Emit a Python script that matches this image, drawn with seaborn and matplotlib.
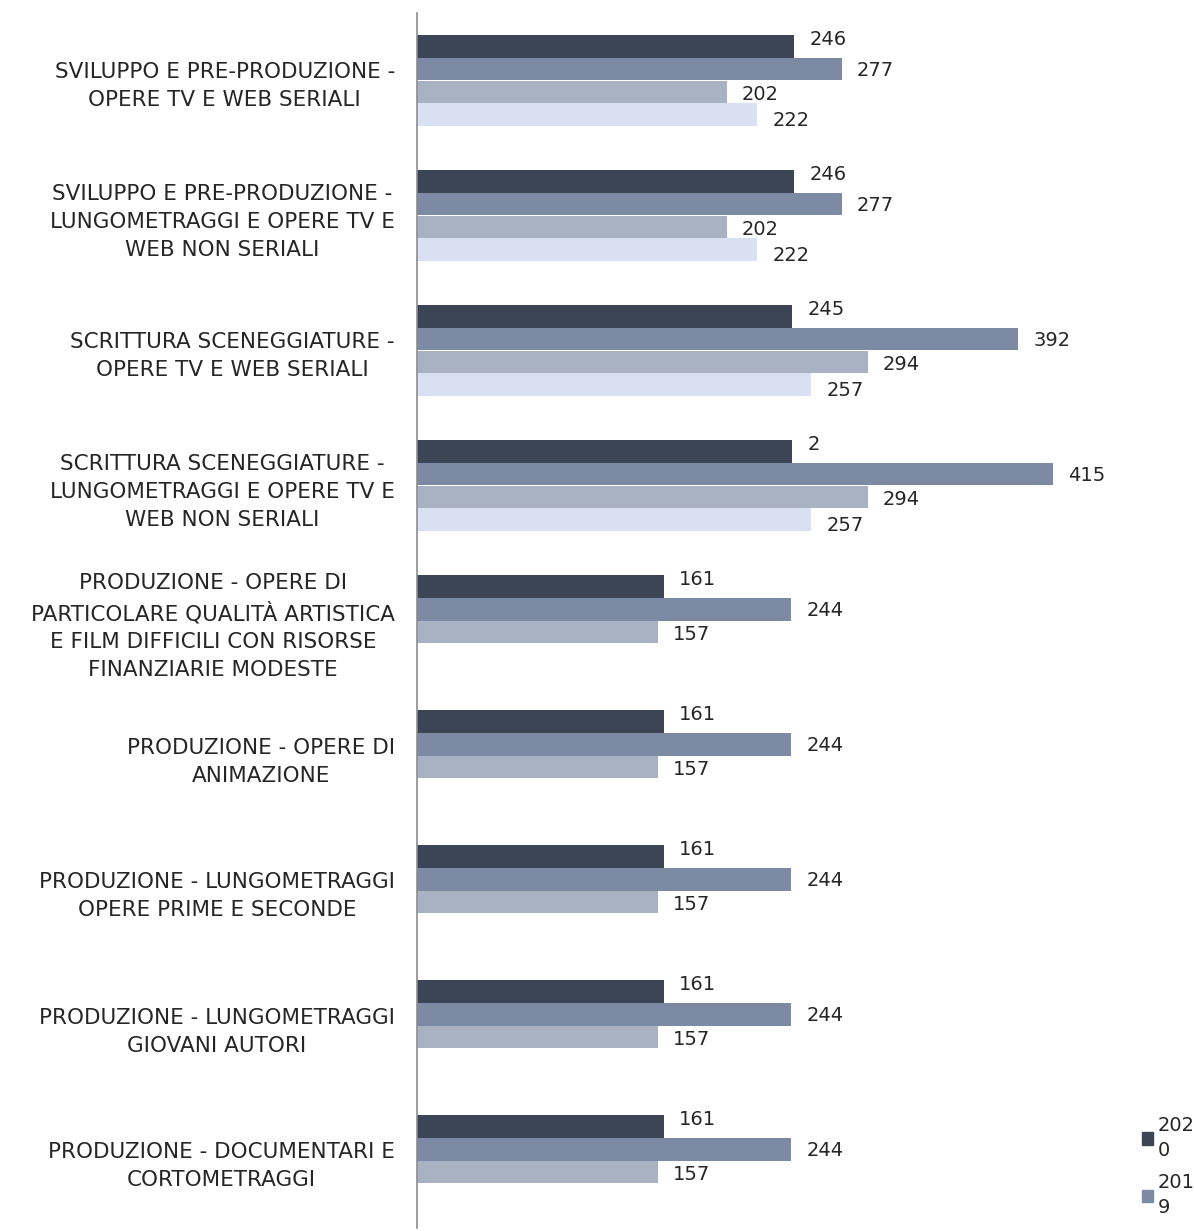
import numpy as np
import pandas as pd
import matplotlib
matplotlib.use('Agg')
import matplotlib.pyplot as plt
import seaborn as sns

categorie = [
    'SVILUPPO E PRE-PRODUZIONE -\nOPERE TV E WEB SERIALI',
    'SVILUPPO E PRE-PRODUZIONE -\nLUNGOMETRAGGI E OPERE TV E\nWEB NON SERIALI',
    'SCRITTURA SCENEGGIATURE -\nOPERE TV E WEB SERIALI',
    'SCRITTURA SCENEGGIATURE -\nLUNGOMETRAGGI E OPERE TV E\nWEB NON SERIALI',
    'PRODUZIONE - OPERE DI\nPARTICOLARE QUALITÀ ARTISTICA\nE FILM DIFFICILI CON RISORSE\nFINANZIARIE MODESTE',
    'PRODUZIONE - OPERE DI\nANIMAZIONE',
    'PRODUZIONE - LUNGOMETRAGGI\nOPERE PRIME E SECONDE',
    'PRODUZIONE - LUNGOMETRAGGI\nGIOVANI AUTORI',
    'PRODUZIONE - DOCUMENTARI E\nCORTOMETRAGGI',
]
anni = ['2020', '2019', '2018', '2017']
valori_2020 = [246, 246, 245, 245, 161, 161, 161, 161, 161]
valori_2019 = [277, 277, 392, 415, 244, 244, 244, 244, 244]
valori_2018 = [202, 202, 294, 294, 157, 157, 157, 157, 157]
valori_2017 = [222, 222, 257, 257, np.nan, np.nan, np.nan, np.nan, np.nan]
# etichette come appaiono nel grafico (una è troncata)
etichette_2020 = ['246', '246', '245', '2', '161', '161', '161', '161', '161']
etichette_2019 = ['277', '277', '392', '415', '244', '244', '244', '244', '244']
etichette_2018 = ['202', '202', '294', '294', '157', '157', '157', '157', '157']
etichette_2017 = ['222', '222', '257', '257', '', '', '', '', '']

colori = ['#3C4556', '#7D8AA4', '#A9B2C3', '#D9E0F1']

serie = [valori_2020, valori_2019, valori_2018, valori_2017]
etichette = [etichette_2020, etichette_2019, etichette_2018, etichette_2017]

righe = []
for anno, valori in zip(anni, serie):
    for cat, v in zip(categorie, valori):
        righe.append({'categoria': cat, 'anno': anno, 'valore': v})
df = pd.DataFrame(righe)

sns.set_style('white')
plt.rcParams['font.family'] = ['DejaVu Sans']
testo = '#262626'

fig = plt.figure(figsize=(11.94, 12.31), dpi=100)
ax = fig.add_axes([417 / 1194, 1 - 1228 / 1231, 705 / 1194, 1215 / 1231])

sns.barplot(data=df.dropna(), y='categoria', x='valore', hue='anno',
            order=categorie, hue_order=anni, palette=colori, orient='h',
            width=0.68, gap=0, saturation=1, errorbar=None, ax=ax,
            linewidth=0)

ax.set_xlim(0, 460)
ax.set_ylim(8.5, -0.5)
ax.set_xlabel('')
ax.set_ylabel('')
ax.set_xticks([])
ax.tick_params(axis='y', length=0, pad=16, labelsize=15.5, labelcolor=testo)
for lab in ax.get_yticklabels():
    lab.set_multialignment('center')
    lab.set_linespacing(1.5)

for s in ['top', 'right', 'bottom']:
    ax.spines[s].set_visible(False)
ax.spines['left'].set_color('#8C8C8C')
ax.spines['left'].set_linewidth(1.2)

spost = [5, -1, -2, -4]
for i, cont in enumerate(ax.containers):
    labs = [l for l in etichette[i] if l != '']
    for bar, l in zip(cont, labs):
        ax.annotate(l, (bar.get_width(), bar.get_y() + bar.get_height() / 2),
                    xytext=(11, spost[i]), textcoords='offset points',
                    ha='left', va='center', fontsize=14, color=testo)

leg = ax.get_legend()
if leg is not None:
    leg.remove()
handles = [plt.Rectangle((0, 0), 1, 1, color=c) for c in colori[:2]]
etich_leg = [a[:3] + '\n' + a[3:] for a in anni[:2]]
legenda = fig.legend(handles, etich_leg, loc='upper left',
                     bbox_to_anchor=(1132 / 1194, 1 - 1106 / 1231),
                     frameon=False, fontsize=14, handlelength=0.6, handleheight=0.6,
                     handletextpad=0.2, labelspacing=0.7, labelcolor=testo, borderpad=0)
for t in legenda.get_texts():
    t.set_linespacing(1.4)

fig.savefig('out.png', dpi=100)
